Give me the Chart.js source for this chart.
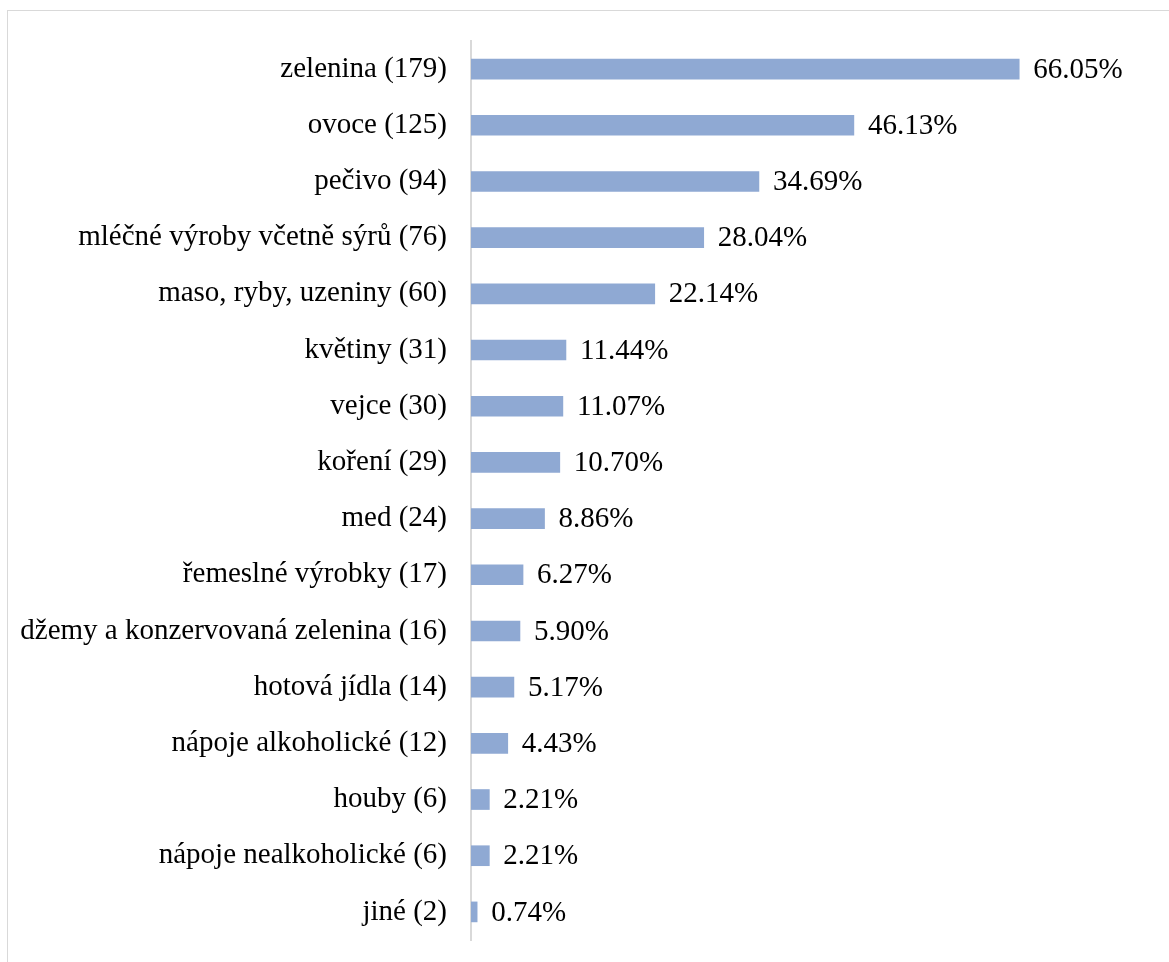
<!DOCTYPE html>
<html>
<head>
<meta charset="utf-8">
<script src="https://cdn.jsdelivr.net/npm/chart.js@4"></script>
<style>
  html, body { margin: 0; padding: 0; background: #fff; overflow: hidden; }
  #frame {
    position: absolute; left: 7px; top: 10px;
    width: 1200px; height: 1000px;
    border: 1px solid #d9d9d9;
  }
  #wrap { position: absolute; left: 0; top: 0; width: 1169px; height: 962px; }
</style>
</head>
<body>
<div id="frame"></div>
<div id="wrap"><canvas id="chart"></canvas></div>
<script>
// product categories, number of answers, share of respondents (%)
const names = [
  'zelenina', 'ovoce', 'pečivo', 'mléčné výroby včetně sýrů', 'maso, ryby, uzeniny',
  'květiny', 'vejce', 'koření', 'med', 'řemeslné výrobky',
  'džemy a konzervovaná zelenina', 'hotová jídla', 'nápoje alkoholické', 'houby',
  'nápoje nealkoholické', 'jiné'
];
const counts = [179, 125, 94, 76, 60, 31, 30, 29, 24, 17, 16, 14, 12, 6, 6, 2];
const shares = [66.05, 46.13, 34.69, 28.04, 22.14, 11.44, 11.07, 10.70, 8.86, 6.27, 5.90, 5.17, 4.43, 2.21, 2.21, 0.74];

const labels = names.map((n, i) => `${n} (${counts[i]})`);

const FONT = { family: '"Liberation Serif", "Times New Roman", serif', size: 29 };

// draws the "66.05%" text right of each bar
const valueLabels = {
  id: 'valueLabels',
  afterDatasetsDraw(chart) {
    const ctx = chart.ctx;
    const meta = chart.getDatasetMeta(0);
    ctx.save();
    ctx.font = `${FONT.size}px ${FONT.family}`;
    ctx.fillStyle = '#000';
    ctx.textAlign = 'left';
    ctx.textBaseline = 'middle';
    meta.data.forEach((bar, i) => {
      ctx.fillText(shares[i].toFixed(2) + '%', bar.x + 14, bar.y + 1);
    });
    ctx.restore();
  }
};

new Chart(document.getElementById('chart'), {
  type: 'bar',
  data: {
    labels,
    datasets: [{
      data: shares,
      backgroundColor: '#8fa9d3',
      borderWidth: 0,
      barThickness: 20,
    }]
  },
  options: {
    indexAxis: 'y',
    responsive: true,
    maintainAspectRatio: false,
    animation: false,
    layout: { padding: { top: 41, bottom: 22, left: 0, right: 34 } },
    scales: {
      x: {
        display: false,
        min: 0,
        max: 80,
      },
      y: {
        afterFit: s => {
          s.width = 471;
          s.paddingTop = 0;
          s.paddingBottom = 0;
        },
        grid: { display: false, drawTicks: false },
        border: { display: true, color: '#d9d9d9', width: 2 },
        ticks: {
          color: '#000',
          padding: 24,
          font: FONT,
        }
      }
    },
    plugins: {
      legend: { display: false },
      tooltip: { enabled: false }
    }
  },
  plugins: [valueLabels]
});
</script>
</body>
</html>
